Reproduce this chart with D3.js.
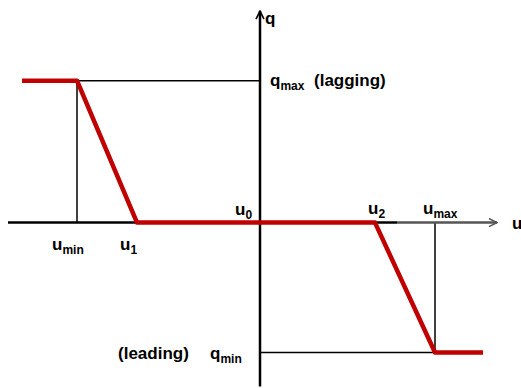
<!DOCTYPE html>
<html>
<head>
<meta charset="utf-8">
<script src="https://cdn.jsdelivr.net/npm/d3@7"></script>
<style>
  body { margin: 0; background: #fff; }
  text { font-family: "Liberation Sans", Arial, sans-serif; font-weight: bold; fill: #000; }
</style>
</head>
<body>
<div id="chart"></div>
<script>
var w = 521, h = 388;

// characteristic q(u), u0 at zero
var curveU = [-2.38, -1.83, -1.23, 0, 1.15, 1.75, 2.23];
var curveQ = [1, 1, 0, 0, 0, -0.915, -0.915];

var uMin = -1.83, u1 = -1.23, u2 = 1.15, uMax = 1.75;
var qMax = 1, qMin = -0.915;
var axisU = [-2.52, 2.37];
var axisQ = [-1.155, 1.49];

const x = d3.scaleLinear().domain([-2.6, 2.61]).range([0, w]);
const y = d3.scaleLinear().domain([-1.165, 1.568]).range([388, 0]);

const svg = d3.select('#chart').append('svg')
    .attr('width', w)
    .attr('height', h);

svg.append('defs').append('marker')
    .attr('id', 'arr')
    .attr('viewBox', '0 0 10 10')
    .attr('refX', 9).attr('refY', 5)
    .attr('markerWidth', 4).attr('markerHeight', 4)
    .attr('markerUnits', 'strokeWidth')
    .attr('orient', 'auto')
    .append('path')
    .attr('d', 'M1,1 L9,5 L1,9')
    .attr('fill', 'none')
    .attr('stroke', 'context-stroke')
    .attr('stroke-width', 1.6);

// helper lines
const thin = [
  [[uMin, qMax], [0, qMax]],
  [[uMin, qMax], [uMin, 0]],
  [[uMax, 0], [uMax, qMin]],
  [[0, qMin], [uMax, qMin]]
];
svg.append('g').selectAll('line')
    .data(thin)
    .enter().append('line')
    .attr('x1', d => x(d[0][0])).attr('y1', d => y(d[0][1]))
    .attr('x2', d => x(d[1][0])).attr('y2', d => y(d[1][1]))
    .attr('stroke', '#000')
    .attr('stroke-width', 1.5);

// u axis
svg.append('line')
    .attr('x1', x(axisU[0])).attr('y1', y(0))
    .attr('x2', x(1.37)).attr('y2', y(0))
    .attr('stroke', '#000').attr('stroke-width', 2.5);
svg.append('line')
    .attr('x1', x(1.37)).attr('y1', y(0))
    .attr('x2', x(axisU[1])).attr('y2', y(0))
    .attr('stroke', '#555').attr('stroke-width', 2.5)
    .attr('marker-end', 'url(#arr)');

// q axis
svg.append('line')
    .attr('x1', x(0)).attr('y1', y(axisQ[0]))
    .attr('x2', x(0)).attr('y2', y(axisQ[1]))
    .attr('stroke', '#000').attr('stroke-width', 2.5)
    .attr('marker-end', 'url(#arr)');

// red characteristic
const line = d3.line().x(d => x(d[0])).y(d => y(d[1]));
svg.append('path')
    .datum(d3.zip(curveU, curveQ))
    .attr('d', line)
    .attr('fill', 'none')
    .attr('stroke', '#c00000')
    .attr('stroke-width', 4.5)
    .attr('stroke-linejoin', 'round');

// labels
function label(px, py, main, sub) {
  const t = svg.append('text')
      .attr('x', px).attr('y', py)
      .attr('font-size', 17);
  t.append('tspan').text(main);
  if (sub) t.append('tspan').attr('font-size', 12).attr('dy', 4).text(sub);
}

label(x(0) + 5, y(axisQ[1]) + 13, 'q');
label(x(0) + 10, y(qMax) + 5, 'q', 'max');
label(x(0) + 54, y(qMax) + 5, '(lagging)');
label(x(0) - 25, y(0) - 8, 'u', '0');
label(x(u2) - 7, y(0) - 9, 'u', '2');
label(x(uMax) - 12, y(0) - 9, 'u', 'max');
label(x(uMin) - 25, y(0) + 27, 'u', 'min');
label(x(u1) - 17, y(0) + 27, 'u', '1');
label(x(axisU[1]) + 15, y(0) + 6, 'u');
label(x(0) - 142, y(qMin) + 6, '(leading)');
label(x(0) - 50, y(qMin) + 6, 'q', 'min');
</script>
</body>
</html>
